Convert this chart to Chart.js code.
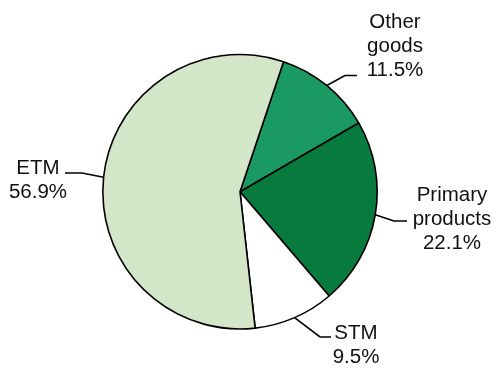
<!DOCTYPE html>
<html>
<head>
<meta charset="utf-8">
<script src="https://cdn.jsdelivr.net/npm/chart.js@4/dist/chart.umd.min.js"></script>
<style>
  html, body { margin: 0; padding: 0; background: #ffffff; }
  #wrap { width: 497px; height: 369px; }
</style>
</head>
<body>
<div id="wrap"><canvas id="c" width="497" height="369"></canvas></div>
<script>
// Share of exports by product group (%)
const categories = ["Other goods", "Primary products", "STM", "ETM"];
const labelLines = [["Other", "goods"], ["Primary", "products"], ["STM"], ["ETM"]];
const shares = [11.5, 22.1, 9.5, 56.9];

const sliceColors = ["#1b9963", "#077a3d", "#ffffff", "#d3e6c8"];

// Leader elbows/ends and text placement for each slice label
const labelLayout = [
  { elbow: [345, 75.5], end: [357, 75.5], textX: 395, firstBaseline: 27.5 },
  { elbow: [394, 221], end: [407, 221], textX: 452, firstBaseline: 200.5 },
  { elbow: [320, 337], end: [331, 337], textX: 356, firstBaseline: 339 },
  { elbow: [82, 173], end: [65, 173], textX: 38, firstBaseline: 174 }
];
const lineHeight = 24;

const leaderLabels = {
  id: "leaderLabels",
  afterDatasetsDraw(chart) {
    const ctx = chart.ctx;
    const arcs = chart.getDatasetMeta(0).data;
    ctx.save();
    ctx.font = "20.5px 'Liberation Sans', Arial, sans-serif";
    ctx.fillStyle = "#111111";
    ctx.textAlign = "center";
    ctx.textBaseline = "alphabetic";
    arcs.forEach((arc, i) => {
      const p = arc.getProps(["x", "y", "startAngle", "endAngle", "outerRadius"], true);
      const mid = (p.startAngle + p.endAngle) / 2;
      const sx = p.x + p.outerRadius * Math.cos(mid);
      const sy = p.y + p.outerRadius * Math.sin(mid);
      const lay = labelLayout[i];
      ctx.beginPath();
      ctx.moveTo(sx, sy);
      ctx.lineTo(lay.elbow[0], lay.elbow[1]);
      ctx.lineTo(lay.end[0], lay.end[1]);
      ctx.strokeStyle = "#000000";
      ctx.lineWidth = 1.6;
      ctx.stroke();
      const lines = labelLines[i].concat([shares[i].toFixed(1) + "%"]);
      lines.forEach((t, k) => {
        ctx.fillText(t, lay.textX, lay.firstBaseline + k * lineHeight);
      });
    });
    ctx.restore();
  }
};

new Chart(document.getElementById("c"), {
  type: "pie",
  data: {
    labels: categories,
    datasets: [{
      data: shares,
      backgroundColor: sliceColors,
      borderColor: "#000000",
      borderWidth: 1.6
    }]
  },
  options: {
    responsive: false,
    animation: false,
    rotation: 18.5,
    layout: { padding: { top: 53.5, bottom: 39, left: 102, right: 119 } },
    plugins: {
      legend: { display: false },
      tooltip: { enabled: false }
    }
  },
  plugins: [leaderLabels]
});
</script>
</body>
</html>
